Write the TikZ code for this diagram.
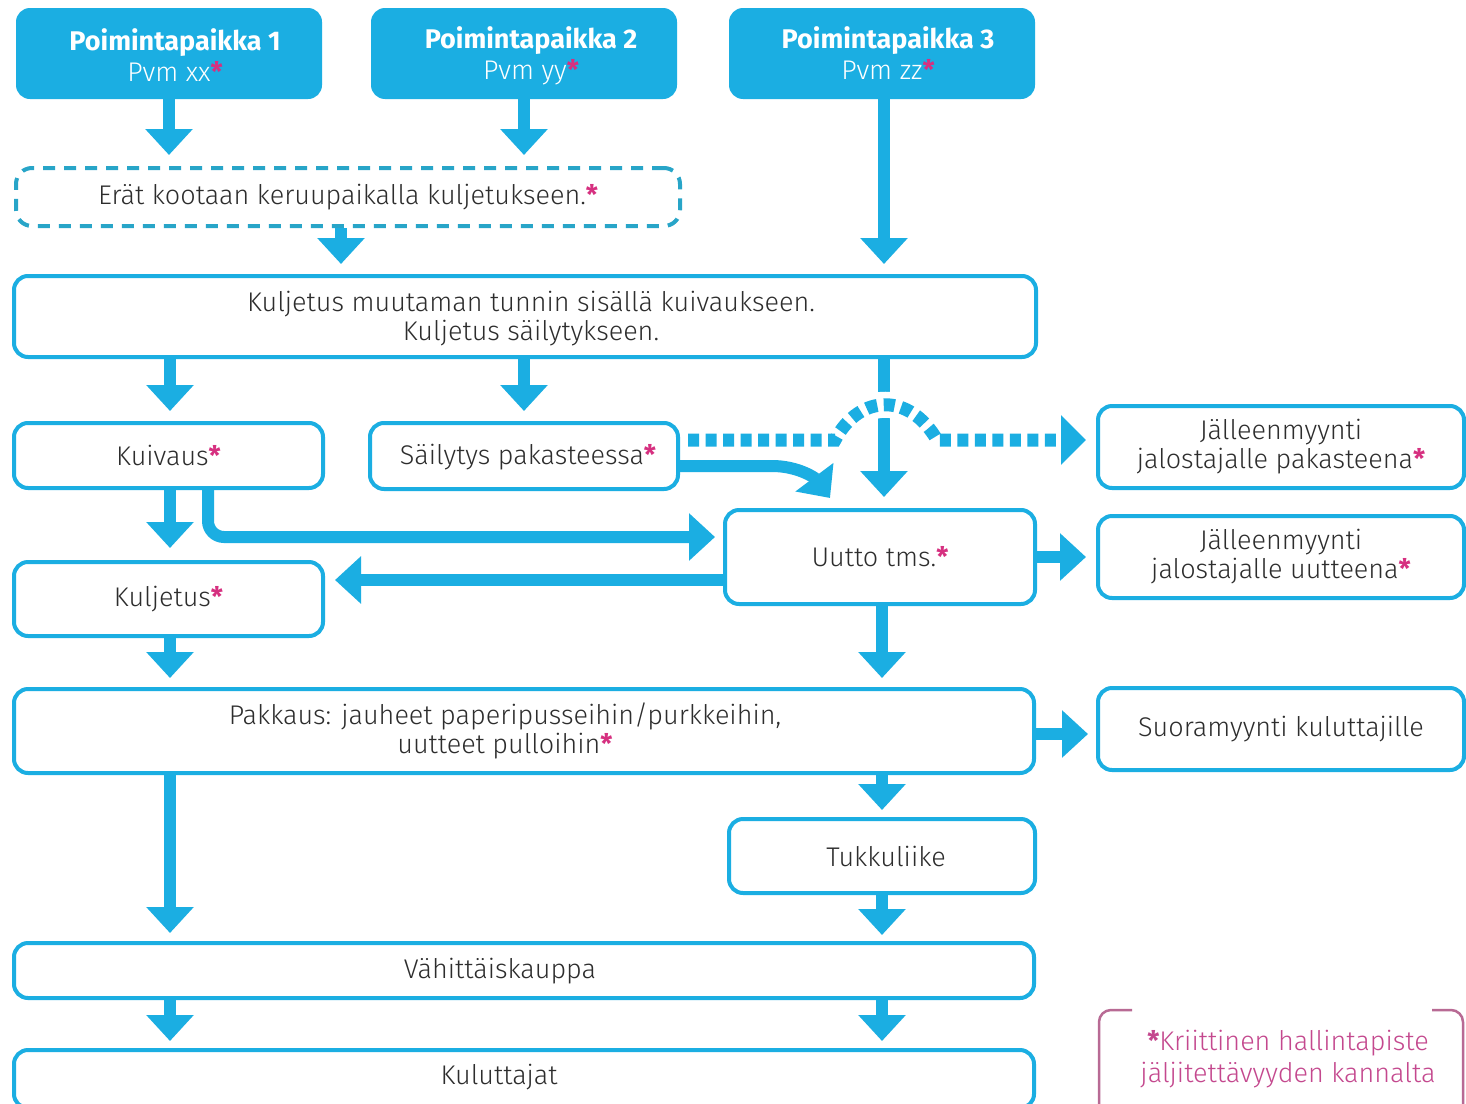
\documentclass[tikz,border=0pt]{standalone}
\usepackage{fontspec}
\setmainfont{Fira Sans}[UprightFont={* Light},BoldFont={* Bold}]
\usetikzlibrary{arrows.meta}
\definecolor{fblue}{RGB}{27,174,226}
\definecolor{fdash}{RGB}{40,165,200}
\definecolor{ftext}{RGB}{45,45,45}
\definecolor{fstar}{RGB}{214,48,128}
\definecolor{fleg}{RGB}{196,72,142}
\definecolor{fbrk}{RGB}{184,106,148}
\newcommand{\crit}{\textcolor{fstar}{\bfseries *}}
\newcommand{\fsz}{\fontsize{27}{29}\selectfont}
\tikzset{
  box/.style={draw=fblue, line width=4pt, rounded corners=14pt, fill=white, align=center,
    text=ftext, inner sep=0pt, font=\fsz},
  txt/.style={align=center, text=ftext, inner sep=0pt, font=\fsz},
  headbox/.style={fill=fblue, rounded corners=14pt, inner sep=0pt},
  headtxt/.style={align=center, text=white, inner sep=0pt, font=\fontsize{27}{31}\selectfont},
  dashbox/.style={draw=fdash, line width=4pt, rounded corners=16pt, dash pattern=on 12pt off 9pt,
    align=center, text=ftext, inner sep=0pt, font=\fsz},
  flow/.style={draw=fblue, line width=12pt, -{Triangle[width=46pt,length=26pt]}},
  dotflow/.style={draw=fblue, line width=13pt, dash pattern=on 11pt off 6.5pt,
    -{Triangle[width=48pt,length=25pt]}},
}
\begin{document}
\begin{tikzpicture}[x=1pt,y=-1pt]
\useasboundingbox[fill=white] (0,0) rectangle (1466,1103);
% header boxes
\node[headbox, minimum width=306pt, minimum height=91pt] (p1) at (169,53.5) {};
\node[headtxt] (p1t) at (175,55) {\textbf{Poimintapaikka 1}\\Pvm xx\crit};
\node[headbox, minimum width=306pt, minimum height=91pt] (p2) at (524,53.5) {};
\node[headtxt] (p2t) at (531,56) {\textbf{Poimintapaikka 2}\\Pvm yy\crit};
\node[headbox, minimum width=306pt, minimum height=91pt] (p3) at (882,53.5) {};
\node[headtxt] (p3t) at (888,53) {\textbf{Poimintapaikka 3}\\Pvm zz\crit};
% boxes
\node[dashbox, minimum width=664pt, minimum height=58pt] (kerays) at (348,197)
  {Erät kootaan keruupaikalla kuljetukseen.\crit};
\node[box, minimum width=1022pt, minimum height=81pt] (kulj1) at (525,316.5) {};
\node[txt] (kulj1t) at (531,318.5) {Kuljetus muutaman tunnin sisällä kuivaukseen.\\Kuljetus säilytykseen.};
\node[box, minimum width=309pt, minimum height=65pt] (kuiv) at (168.5,455.5) {Kuivaus\crit};
\node[box, minimum width=308pt, minimum height=66pt] (sail) at (524,456) {};
\node[txt] (sailt) at (528,457) {Säilytys pakasteessa\crit};
\node[box, minimum width=366pt, minimum height=82pt] (jm1) at (1281,447)
  {Jälleenmyynti\\jalostajalle pakasteena\crit};
\node[box, minimum width=310pt, minimum height=94pt] (uutto) at (880,557) {Uutto tms.\crit};
\node[box, minimum width=366pt, minimum height=82pt] (jm2) at (1281,557)
  {Jälleenmyynti\\jalostajalle uutteena\crit};
\node[box, minimum width=309pt, minimum height=74pt] (kulj2) at (168.5,599) {Kuljetus\crit};
\node[box, minimum width=1020pt, minimum height=84pt] (pakk) at (524,731) {};
\node[txt] (pakkt) at (505,731) {Pakkaus: jauheet paperipusseihin/purkkeihin,\\uutteet pulloihin\crit};
\node[box, minimum width=366pt, minimum height=82pt] (suora) at (1281,729) {Suoramyynti kuluttajille};
\node[box, minimum width=306pt, minimum height=74pt] (tukku) at (882,856) {};
\node[txt] (tukkut) at (886,856) {Tukkuliike};
\node[box, minimum width=1020pt, minimum height=55pt] (vahit) at (524,970.5) {};
\node[txt] (vahitt) at (500,971) {Vähittäiskauppa};
\node[box, minimum width=1020pt, minimum height=58pt] (kulut) at (524,1079) {};
\node[txt] (kulutt) at (499,1077) {Kuluttajat};
% arrows
\draw[flow] (p1.south) -- ([yshift=11pt]p1.south |- kerays.north);
\draw[flow] (p2.south) -- ([yshift=11pt]p2.south |- kerays.north);
\draw[flow] ([xshift=-7pt]kerays.south) -- ([xshift=-7pt,yshift=10pt]kerays.south |- kulj1.north);
\draw[flow] ([xshift=2pt]p3.south) -- ([xshift=2pt,yshift=10pt]p3.south |- kulj1.north);
\draw[flow] ([xshift=1.5pt]kuiv.north |- kulj1.south) -- ([xshift=1.5pt,yshift=10pt]kuiv.north);
\draw[flow] (sail.north |- kulj1.south) -- ([yshift=10pt]sail.north);
\draw[flow] ([xshift=4pt]uutto.north |- kulj1.south) -- ([xshift=4pt,yshift=11pt]uutto.north);
\draw[flow] ([xshift=1.5pt]kuiv.south) -- ([xshift=1.5pt,yshift=12pt]kulj2.north);
\draw[flow, rounded corners=16pt] ([xshift=39.5pt]kuiv.south) -- ([xshift=39.5pt]kuiv.south |- 0,537)
  -- ([xshift=-8pt]uutto.west |- 0,537);
\draw[flow] ([yshift=-23pt]uutto.west) -- ([xshift=10pt,yshift=-23pt]kulj2.east |- uutto.west);
\draw[flow] (uutto.east) -- ([xshift=-10pt]jm2.west);
\draw[flow] ([xshift=1.5pt]kulj2.south) -- ([xshift=1.5pt,yshift=9pt]kulj2.south |- pakk.north);
\draw[flow] ([xshift=2pt]uutto.south) -- ([xshift=2pt,yshift=9pt]uutto.south |- pakk.north);
\draw[flow] ([yshift=-3pt]pakk.east) -- ([xshift=-8pt,yshift=-3pt]suora.west |- pakk.east);
\draw[flow] ([xshift=1.5pt]kulj2.south |- pakk.south) -- ([xshift=1.5pt,yshift=8pt]kulj2.south |- vahit.north);
\draw[flow] (tukku.north |- pakk.south) -- ([yshift=7pt]tukku.north);
\draw[flow] (tukku.south) -- ([yshift=6pt]tukku.south |- vahit.north);
\draw[flow] ([xshift=1.5pt]kulj2.south |- vahit.south) -- ([xshift=1.5pt,yshift=7pt]kulj2.south |- kulut.north);
\draw[flow] (tukku.south |- vahit.south) -- ([yshift=7pt]tukku.south |- kulut.north);
% curved arrow from storage to extraction
\draw[flow] ([yshift=-10pt]sail.east) -- (772,466) .. controls (798,466) and (815,478) .. (830,498);
% hop over the vertical arrow, then dotted arrow
\coordinate (hopA) at (835,440);
\coordinate (hopB) at (937,440);
\draw[white, line width=26pt] (hopA) .. controls (860,393) and (910,393) .. (hopB);
\draw[dotflow] ([xshift=8pt,yshift=16pt]sail.east) -- (hopA) .. controls (860,393) and (910,393) .. (hopB)
  -- ([xshift=-10pt,yshift=7pt]jm1.west);
% legend
\draw[fbrk, line width=2.5pt, rounded corners=12pt] (1132,1010) -- (1099,1010) -- (1099,1125);
\draw[fbrk, line width=2.5pt, rounded corners=12pt] (1432,1010) -- (1463,1010) -- (1463,1125);
\node[align=center, text=fleg, inner sep=0pt, font=\fontsize{27}{32}\selectfont] (legend) at (1288,1059)
  {{\bfseries *}Kriittinen hallintapiste\\jäljitettävyyden kannalta};
\end{tikzpicture}
\end{document}
